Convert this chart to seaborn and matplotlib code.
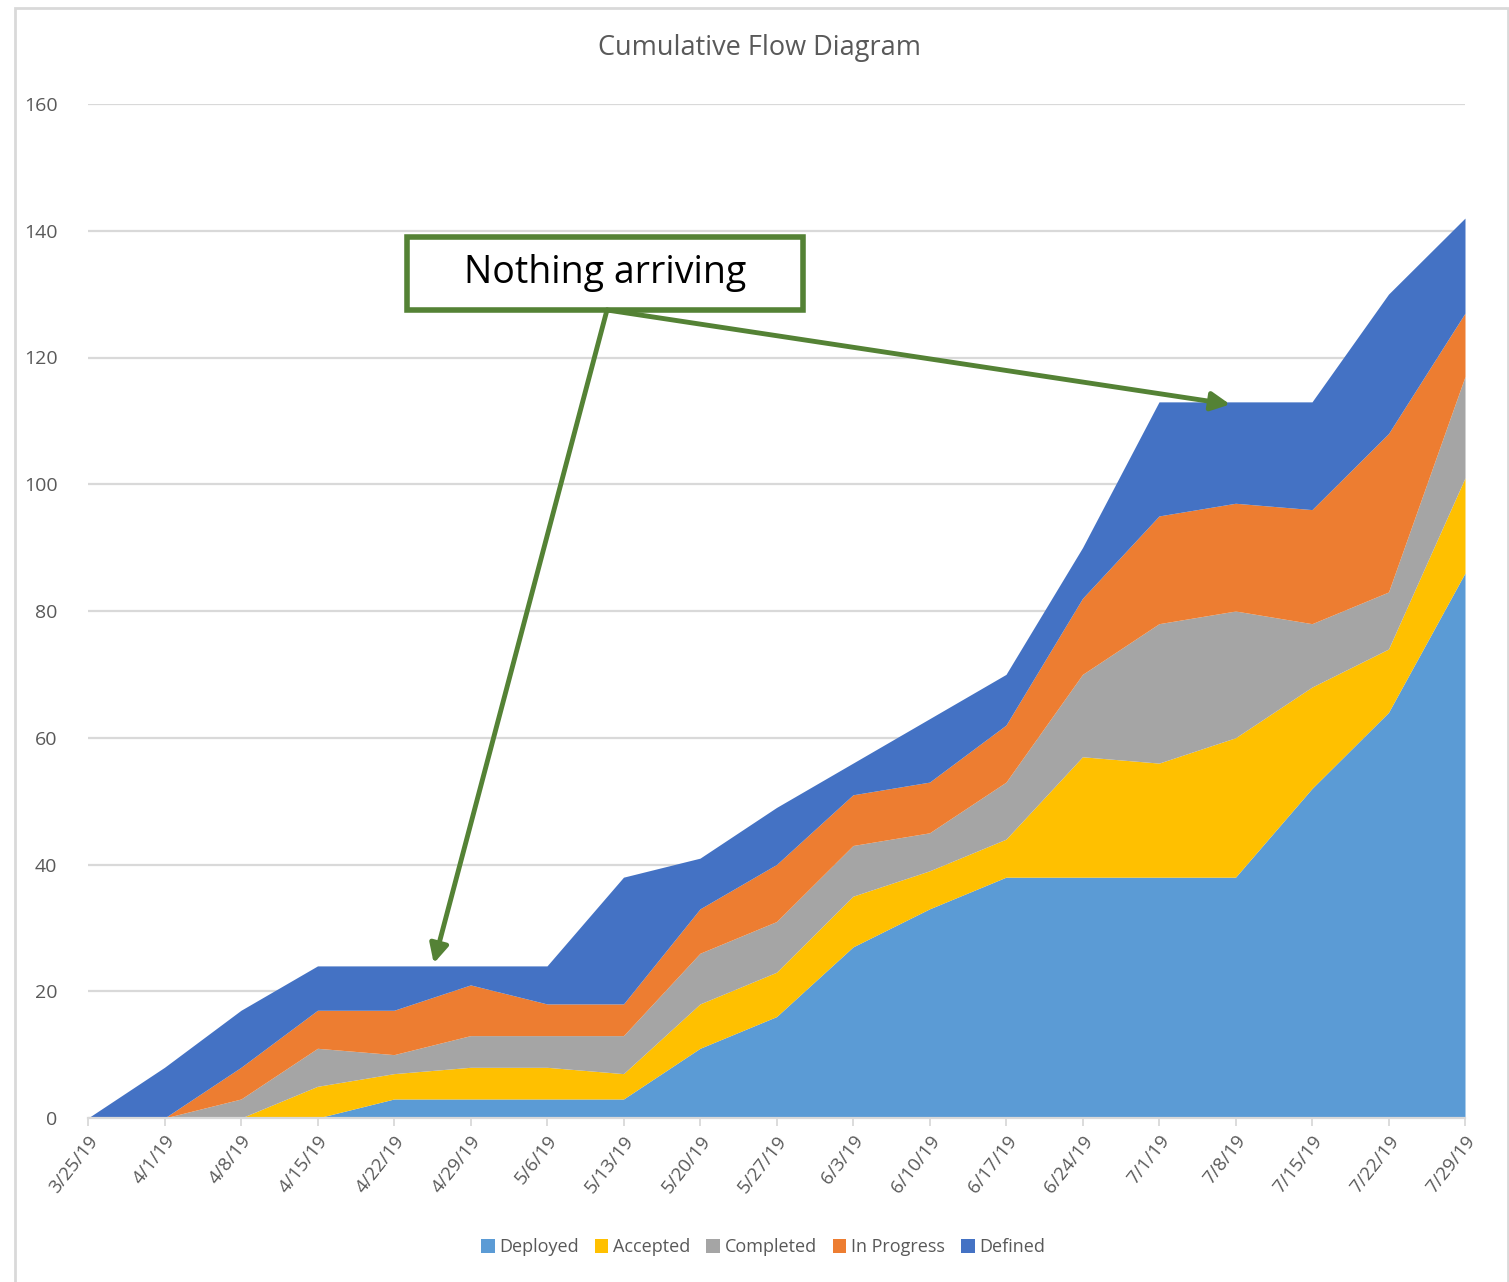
import numpy as np
import seaborn as sns
import matplotlib.pyplot as plt
from matplotlib.patches import Patch, Rectangle

# weekly snapshot dates
dates = ['3/25/19', '4/1/19', '4/8/19', '4/15/19', '4/22/19', '4/29/19', '5/6/19',
         '5/13/19', '5/20/19', '5/27/19', '6/3/19', '6/10/19', '6/17/19', '6/24/19',
         '7/1/19', '7/8/19', '7/15/19', '7/22/19', '7/29/19']

# item counts per state (stacked bottom to top)
deployed = [0, 0, 0, 0, 3, 3, 3, 3, 11, 16, 27, 33, 38, 38, 38, 38, 52, 64, 86]
accepted = [0, 0, 0, 5, 4, 5, 5, 4, 7, 7, 8, 6, 6, 19, 18, 22, 16, 10, 15]
completed = [0, 0, 3, 6, 3, 5, 5, 6, 8, 8, 8, 6, 9, 13, 22, 20, 10, 9, 16]
in_progress = [0, 0, 5, 6, 7, 8, 5, 5, 7, 9, 8, 8, 9, 12, 17, 17, 18, 25, 10]
defined = [0, 8, 9, 7, 7, 3, 6, 20, 8, 9, 5, 10, 8, 8, 18, 16, 17, 22, 15]

series_names = ['Deployed', 'Accepted', 'Completed', 'In Progress', 'Defined']
colors = ['#5B9BD5', '#FFC000', '#A5A5A5', '#ED7D31', '#4472C4']

sns.set_theme(style='white')
plt.rcParams['font.family'] = ['Open Sans', 'DejaVu Sans']
grey_txt = '#595959'
grid_c = '#D9D9D9'
green = '#548235'

fig = plt.figure(figsize=(15.09, 12.82), dpi=100)
ax = fig.add_axes([88 / 1509, 1 - 1118 / 1282, (1465 - 88) / 1509, (1118 - 104) / 1282])

x = np.arange(len(dates))
ax.stackplot(x, deployed, accepted, completed, in_progress, defined,
             colors=colors, linewidth=0, zorder=2)

ax.set_xlim(0, len(dates) - 1)
ax.set_ylim(0, 160)
ax.set_yticks(range(0, 161, 20))
ax.set_xticks(x)
ax.set_xticklabels(dates, rotation=52, ha='right', va='top', rotation_mode='anchor')
ax.yaxis.grid(True, color=grid_c, linewidth=1.6)
ax.set_axisbelow(True)
sns.despine(ax=ax, left=True, top=True, right=True)
ax.spines['bottom'].set_color(grid_c)
ax.spines['bottom'].set_linewidth(1.6)
ax.spines['bottom'].set_zorder(3)
ax.tick_params(axis='x', bottom=True, length=6, width=1.3, color=grid_c,
               labelsize=13.5, labelcolor=grey_txt, pad=4)
ax.tick_params(axis='y', left=False, labelsize=14, labelcolor=grey_txt, pad=16)

fig.text(760 / 1509, 1 - 48 / 1282, 'Cumulative Flow Diagram', ha='center', va='center',
         fontsize=19.5, color=grey_txt)

# callout box and arrows
box_x0, box_x1 = (407 - 88) / 76.5, (803 - 88) / 76.5
box_y0, box_y1 = (1118 - 310) / 6.3375, (1118 - 237) / 6.3375
ax.add_patch(Rectangle((box_x0, box_y0), box_x1 - box_x0, box_y1 - box_y0,
                       facecolor='white', edgecolor=green, linewidth=4, zorder=5))
ax.text((box_x0 + box_x1) / 2, (box_y0 + box_y1) / 2, 'Nothing arriving',
        ha='center', va='center', fontsize=27, color='black', zorder=6)
start = ((607 - 88) / 76.5, box_y0)
for tip in [(4.52, 24.4), (14.93, 112.6)]:
    ax.annotate('', xy=tip, xytext=start,
                arrowprops=dict(arrowstyle='-|>', color=green, lw=3.5,
                                mutation_scale=28, shrinkA=0, shrinkB=0),
                zorder=6, annotation_clip=False)

handles = [Patch(facecolor=c, edgecolor='none') for c in colors]
fig.legend(handles, series_names, loc='center', bbox_to_anchor=(763 / 1509, 1 - 1247 / 1282),
           ncol=5, frameon=False, fontsize=13, handlelength=0.75, handleheight=0.8,
           handletextpad=0.25, columnspacing=0.9, labelcolor=grey_txt)

fig.patches.append(Rectangle((15 / 1509, -0.01), (1508 - 15) / 1509, 1 - 8 / 1282 + 0.01,
                             transform=fig.transFigure, fill=False, edgecolor=grid_c,
                             linewidth=2))

fig.savefig('out.png', dpi=100, facecolor='white')
